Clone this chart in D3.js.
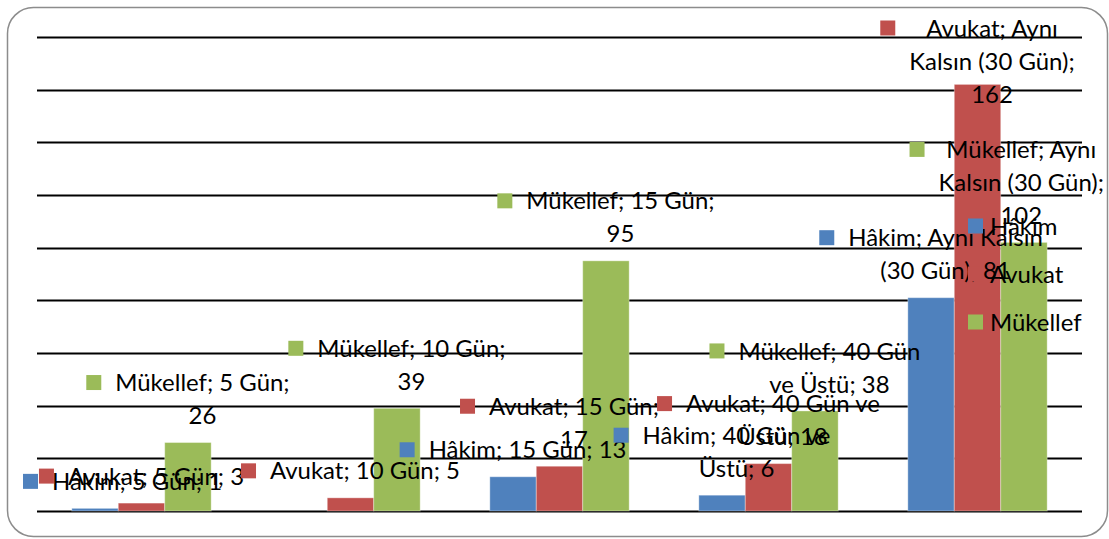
<!DOCTYPE html>
<html>
<head>
<meta charset="utf-8">
<script src="https://cdn.jsdelivr.net/npm/d3@7"></script>
<style>
  body { margin: 0; background: #fff; }
  svg { display: block; }
  text { font-family: Lato, "Noto Sans", sans-serif; fill: #000; }
</style>
</head>
<body>
<svg id="chart"></svg>
<script>
// values
const categories = ['5 Gün', '10 Gün', '15 Gün', '40 Gün ve Üstü', 'Aynı Kalsın (30 Gün)'];
const seriesNames = ['Hâkim', 'Avukat', 'Mükellef'];
const hakim = [1, null, 13, 6, 81];
const avukat = [3, 5, 17, 18, 162];
const mukellef = [26, 39, 95, 38, 102];
const gridValues = [0, 20, 40, 60, 80, 100, 120, 140, 160, 180];
const colors = ['#4F81BD', '#C0504D', '#9BBB59'];

const W = 1109, H = 539;
const plot = { left: 37, right: 1082, top: 37, bottom: 511 };

const svg = d3.select('#chart').attr('width', W).attr('height', H);

// pick a font size so the label text is about as wide as in the picture
const probe = svg.append('text').style('font-size', '100px').text('Avukat; 10 Gün; 5');
const fontSize = 100 * 190 / probe.node().getComputedTextLength();
probe.remove();

function textWidth(s) {
  const t = svg.append('text').style('font-size', fontSize + 'px').text(s);
  const w = t.node().getComputedTextLength();
  t.remove();
  return w;
}

// chart border
svg.append('rect')
  .attr('x', 7.5).attr('y', 7.5)
  .attr('width', 1100).attr('height', 529)
  .attr('rx', 26).attr('ry', 26)
  .attr('fill', '#fff')
  .attr('stroke', '#8c8c8c')
  .attr('stroke-width', 1.5);

const x = d3.scaleBand().domain(categories).range([plot.left, plot.right]);
const xs = d3.scaleBand().domain(seriesNames).range([0, x.bandwidth()]).paddingOuter(0.75);
const y = d3.scaleLinear().domain([0, 180]).range([plot.bottom, plot.top]);

// gridlines
svg.append('g')
  .selectAll('line')
  .data(gridValues)
  .join('line')
  .attr('x1', plot.left).attr('x2', plot.right)
  .attr('y1', d => Math.round(y(d)) + 0.5).attr('y2', d => Math.round(y(d)) + 0.5)
  .attr('stroke', '#000')
  .attr('stroke-width', 2);

const series = [hakim, avukat, mukellef].map((vals, i) => ({
  name: seriesNames[i],
  color: colors[i],
  points: vals.map((v, j) => ({ cat: categories[j], value: v })).filter(p => p.value != null)
}));

// bars
series.forEach(s => {
  svg.append('g')
    .selectAll('rect')
    .data(s.points)
    .join('rect')
    .attr('x', d => x(d.cat) + xs(s.name))
    .attr('width', xs.bandwidth())
    .attr('y', d => y(d.value))
    .attr('height', d => y(0) - y(d.value))
    .attr('fill', s.color)
    .attr('stroke', '#fff')
    .attr('stroke-opacity', 0.35)
    .attr('stroke-width', 1);
});

// data labels: "Series; Category; value", wrapped like Excel does
const maxText = 200, lineH = 33, markerSize = 15, markerGap = 14;

function wrap(str) {
  const words = str.split(' ');
  const lines = [];
  let cur = '';
  words.forEach(w => {
    const next = cur ? cur + ' ' + w : w;
    if (cur && textWidth(next) > maxText) {
      lines.push(cur);
      cur = w;
    } else {
      cur = next;
    }
  });
  lines.push(cur);
  return lines;
}

series.forEach(s => {
  s.points.forEach(p => {
    const lines = wrap(`${s.name}; ${p.cat}; ${p.value}`);
    const textW = d3.max(lines, l => textWidth(l));
    const blockW = markerSize + markerGap + textW;
    const cx = x(p.cat) + xs(s.name) + xs.bandwidth() / 2;
    let left = cx - blockW / 2;
    left = Math.max(23, Math.min(left, 1104 - blockW));
    let first = y(p.value) - 27 - (lines.length - 1) * lineH;
    first = Math.max(first, 28);

    const g = svg.append('g');
    g.append('rect')
      .attr('x', left).attr('y', first - markerSize / 2)
      .attr('width', markerSize).attr('height', markerSize)
      .attr('fill', s.color);
    const textCx = left + markerSize + markerGap + textW / 2;
    g.selectAll('text')
      .data(lines)
      .join('text')
      .attr('x', textCx)
      .attr('y', (d, i) => first + i * lineH)
      .attr('dy', '0.36em')
      .attr('text-anchor', 'middle')
      .style('font-size', fontSize + 'px')
      .text(d => d);
  });
});

// legend
const legend = svg.append('g').attr('transform', 'translate(968, 226)');
const item = legend.selectAll('g')
  .data(series)
  .join('g')
  .attr('transform', (d, i) => `translate(0, ${i * 48})`);
item.append('rect')
  .attr('x', 0).attr('y', -7.5)
  .attr('width', 15).attr('height', 15)
  .attr('fill', d => d.color);
item.append('text')
  .attr('x', 22)
  .attr('dy', '0.36em')
  .style('font-size', fontSize + 'px')
  .text(d => d.name);
</script>
</body>
</html>
